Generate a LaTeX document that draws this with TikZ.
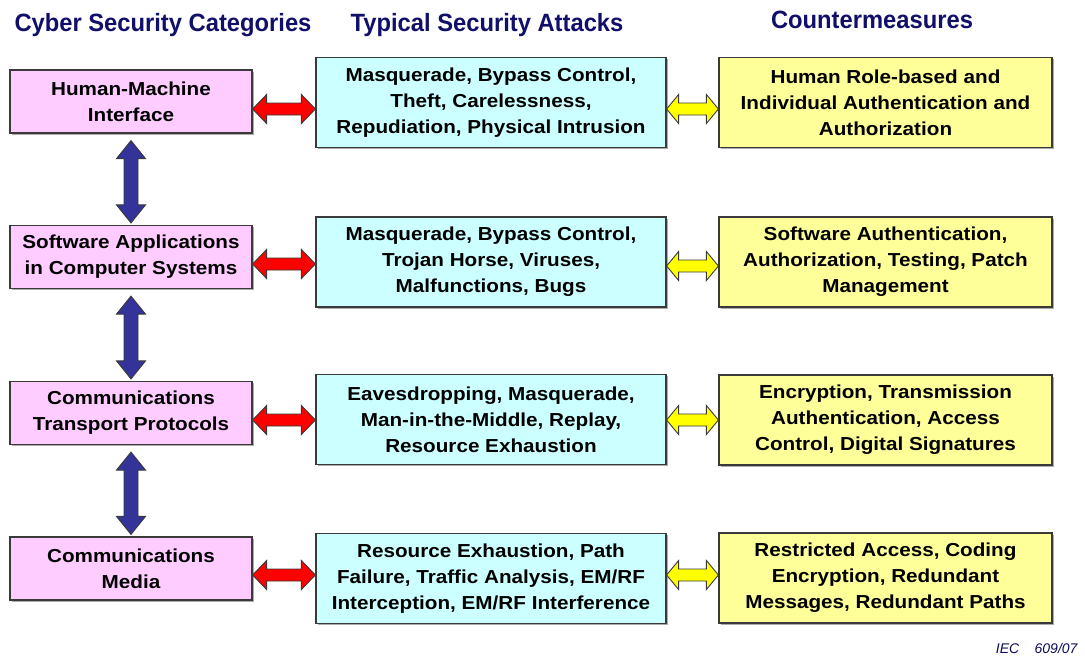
\documentclass[tikz,border=0pt]{standalone}
\usepackage{fontspec}
\usetikzlibrary{calc,shadows}
\setmainfont{Liberation Sans}
\newfontfamily\bodyfont[FakeStretch=1.1]{Liberation Sans}
\newfontfamily\headfont[FakeStretch=0.95]{Liberation Sans}

\definecolor{catpink}{HTML}{FFCCFF}
\definecolor{attcyan}{HTML}{CCFFFF}
\definecolor{cmyellow}{HTML}{FFFF99}
\definecolor{linkred}{HTML}{FF0000}
\definecolor{linkyellow}{HTML}{FFFF00}
\definecolor{stacknavy}{HTML}{333399}
\definecolor{headnavy}{HTML}{10106B}
\definecolor{edgegray}{HTML}{3A3A3A}

\tikzset{
  box/.style={draw=edgegray, line width=1.2pt, align=center, inner sep=2pt,
    font=\bodyfont\bfseries\fontsize{18.8}{26}\selectfont,
    drop shadow={shadow xshift=1.6pt, shadow yshift=-1.6pt, fill=black!55, opacity=0.6}},
  catbox/.style={box, fill=catpink, minimum width=242pt, minimum height=63pt},
  attbox/.style={box, fill=attcyan, minimum width=350pt, minimum height=90pt},
  cmbox/.style={box, fill=cmyellow, minimum width=333pt, minimum height=90pt},
  header/.style={text=headnavy, font=\headfont\bfseries\fontsize{25}{28}\selectfont},
  fatarrow/.style={draw=edgegray, line width=0.9pt, line join=miter},
}

% horizontal double-headed block arrow between two nodes at height #3
\newcommand\hdarrow[5]{%
  \filldraw[fatarrow, fill=#4] let \p1=(#1.east), \p2=(#2.west), \p3=(0,#3) in
    (\x1,\y3) -- (\x1+#5,\y3+14.5pt) -- (\x1+#5,\y3+6pt) -- (\x2-#5,\y3+6pt)
    -- (\x2-#5,\y3+14.5pt) -- (\x2,\y3) -- (\x2-#5,\y3-14.5pt) -- (\x2-#5,\y3-6pt)
    -- (\x1+#5,\y3-6pt) -- (\x1+#5,\y3-14.5pt) -- cycle;}

% vertical double-headed block arrow from one node down to the next
\newcommand\vdarrow[2]{%
  \filldraw[fatarrow, fill=stacknavy] let \p1=(#1.south), \p2=(#2.north) in
    (\x1,\y1-7pt) -- (\x1+14.5pt,\y1-25pt) -- (\x1+7pt,\y1-25pt) -- (\x1+7pt,\y2+20pt)
    -- (\x1+14.5pt,\y2+20pt) -- (\x1,\y2+2pt) -- (\x1-14.5pt,\y2+20pt) -- (\x1-7pt,\y2+20pt)
    -- (\x1-7pt,\y1-25pt) -- (\x1-14.5pt,\y1-25pt) -- cycle;}

\begin{document}
\begin{tikzpicture}[x=1pt, y=-1pt]
\useasboundingbox[fill=white] (0,0) rectangle (1085,657);

% column headings
\node[header] (h1) at (163,25) {Cyber Security Categories};
\node[header] (h2) at (487,25) {Typical Security Attacks};
\node[header] (h3) at (872,20) {Countermeasures};

% categories
\node[catbox] (c1) at (131,101.5) {Human-Machine\\Interface};
\node[catbox] (c2) at (131,257) {Software Applications\\in Computer Systems};
\node[catbox] (c3) at (131,413) {Communications\\Transport Protocols};
\node[catbox] (c4) at (131,568.5) {Communications\\Media};

% attacks
\node[attbox] (a1) at (491,102.5) {Masquerade, Bypass Control,\\Theft, Carelessness,\\Repudiation, Physical Intrusion};
\node[attbox] (a2) at (491,262) {Masquerade, Bypass Control,\\Trojan Horse, Viruses,\\Malfunctions, Bugs};
\node[attbox] (a3) at (491,419.5) {Eavesdropping, Masquerade,\\Man-in-the-Middle, Replay,\\Resource Exhaustion};
\node[attbox] (a4) at (491,578.5) {Resource Exhaustion, Path\\Failure, Traffic Analysis, EM/RF\\Interception, EM/RF Interference};

% countermeasures
\node[cmbox] (m1) at (885.5,102.5) {Human Role-based and\\Individual Authentication and\\Authorization};
\node[cmbox] (m2) at (885.5,262) {Software Authentication,\\Authorization, Testing, Patch\\Management};
\node[cmbox] (m3) at (885.5,420) {Encryption, Transmission\\Authentication, Access\\Control, Digital Signatures};
\node[cmbox] (m4) at (885.5,578) {Restricted Access, Coding\\Encryption, Redundant\\Messages, Redundant Paths};

% links between columns
\hdarrow{c1}{a1}{109}{linkred}{14pt}
\hdarrow{c2}{a2}{264}{linkred}{14pt}
\hdarrow{c3}{a3}{420}{linkred}{14pt}
\hdarrow{c4}{a4}{575}{linkred}{14pt}
\hdarrow{a1}{m1}{109}{linkyellow}{12pt}
\hdarrow{a2}{m2}{266}{linkyellow}{12pt}
\hdarrow{a3}{m3}{420}{linkyellow}{12pt}
\hdarrow{a4}{m4}{575}{linkyellow}{12pt}

% links between layers
\vdarrow{c1}{c2}
\vdarrow{c2}{c3}
\vdarrow{c3}{c4}

% figure reference
\node[anchor=east, text=headnavy!80!black, font=\itshape\fontsize{14}{16}\selectfont] (ref) at (1081,648) {IEC\hspace{1.1em}609/07};
\end{tikzpicture}
\end{document}
